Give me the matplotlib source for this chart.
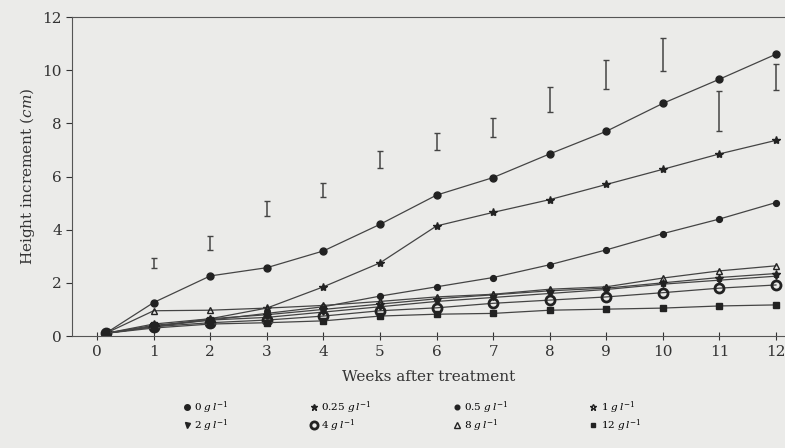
import matplotlib
matplotlib.use("Agg")
import matplotlib.pyplot as plt
from matplotlib.lines import Line2D
import numpy as np

plt.rcParams['font.family'] = ['DejaVu Serif']
plt.rcParams['mathtext.fontset'] = 'dejavuserif'

# weeks after treatment (first point drawn just right of 0)
weeks = [0.15, 1, 2, 3, 4, 5, 6, 7, 8, 9, 10, 11, 12]

h_0 = [0.1, 1.26, 2.26, 2.57, 3.2, 4.2, 5.3, 5.96, 6.85, 7.7, 8.75, 9.66, 10.6]
h_025 = [0.1, 0.35, 0.65, 1.05, 1.85, 2.75, 4.14, 4.65, 5.13, 5.7, 6.27, 6.85, 7.36]
h_05 = [0.1, 0.35, 0.6, 0.85, 1.1, 1.5, 1.85, 2.2, 2.68, 3.24, 3.85, 4.4, 5.02]
h_1 = [0.1, 0.45, 0.65, 0.8, 1.0, 1.2, 1.4, 1.55, 1.7, 1.8, 2.0, 2.2, 2.35]
h_2 = [0.1, 0.4, 0.6, 0.7, 0.9, 1.1, 1.3, 1.45, 1.6, 1.75, 1.95, 2.1, 2.25]
h_4 = [0.1, 0.35, 0.5, 0.6, 0.75, 0.95, 1.06, 1.23, 1.35, 1.47, 1.63, 1.8, 1.92]
h_8 = [0.1, 0.95, 0.97, 1.05, 1.15, 1.3, 1.47, 1.57, 1.76, 1.85, 2.18, 2.45, 2.64]
h_12 = [0.1, 0.3, 0.45, 0.5, 0.57, 0.75, 0.82, 0.85, 0.97, 1.01, 1.05, 1.13, 1.17]

# LSD bars: position, centre, half length
lsd_x = [1, 2, 3, 4, 5, 6, 7, 8, 9, 10, 11, 12]
lsd_y = [2.75, 3.5, 4.8, 5.5, 6.65, 7.3, 7.85, 8.9, 9.85, 10.6, 8.45, 9.75]
lsd_half = [0.2, 0.28, 0.28, 0.26, 0.32, 0.32, 0.35, 0.47, 0.55, 0.62, 0.75, 0.5]

labels = ['0', '0.25', '0.5', '1', '2', '4', '8', '12']
series = [h_0, h_025, h_05, h_1, h_2, h_4, h_8, h_12]
styles = [
    dict(marker='o', ms=5, mfc='#222', mec='#222'),
    dict(marker='*', ms=6, mfc='#222', mec='#222'),
    dict(marker='o', ms=4.2, mfc='#222', mec='#222'),
    dict(marker='*', ms=6, mfc='none', mec='#222'),
    dict(marker='v', ms=4.5, mfc='#222', mec='#222'),
    dict(marker='o', ms=6.5, mfc='none', mec='#222', mew=2),
    dict(marker='^', ms=5, mfc='none', mec='#222'),
    dict(marker='s', ms=4, mfc='#222', mec='#222'),
]

bg = '#ebebe9'
fig = plt.figure(figsize=(7.85, 4.48), dpi=100, facecolor=bg)
ax = fig.add_axes([0.092, 0.25, 0.908, 0.712], facecolor=bg)

handles = []
for lab, ys, st in zip(labels, series, styles):
    ax.plot(weeks, ys, color='#444', lw=0.9, **st)
    leg_st = dict(st)
    leg_st['ms'] = st['ms'] * 0.8
    handles.append((Line2D([], [], ls='none', **leg_st), lab + r' $g\,l^{-1}$'))

ax.errorbar(lsd_x, lsd_y, yerr=lsd_half, fmt='none', ecolor='#444',
            elinewidth=1.1, capsize=2.5, capthick=1)

ax.set_xlim(-0.44, 12.16)
ax.set_ylim(0, 12)
ax.set_xticks(range(0, 13))
ax.set_yticks(range(0, 13, 2))
ax.tick_params(axis='x', direction='inout', length=6, labelsize=11, colors='#333')
ax.tick_params(axis='y', direction='out', length=4, labelsize=11, colors='#333')
ax.spines['right'].set_visible(False)
for s in ['left', 'bottom', 'top']:
    ax.spines[s].set_color('#555')
ax.set_xlabel('Weeks after treatment', fontsize=11, color='#333', labelpad=8)
ax.set_ylabel(r'Height increment ($cm$)', fontsize=11, color='#333', labelpad=4)

# legend is filled column by column, reorder so rows read 0..1 and 2..12
order = [0, 4, 1, 5, 2, 6, 3, 7]
fig.legend([handles[i][0] for i in order], [handles[i][1] for i in order],
           ncol=4, loc='lower center', bbox_to_anchor=(0.525, 0.01),
           frameon=False, fontsize=7.5, handlelength=0.8, columnspacing=7.8,
           labelspacing=0.15, handletextpad=0.3)

fig.savefig('out.png', dpi=100, facecolor=bg)
